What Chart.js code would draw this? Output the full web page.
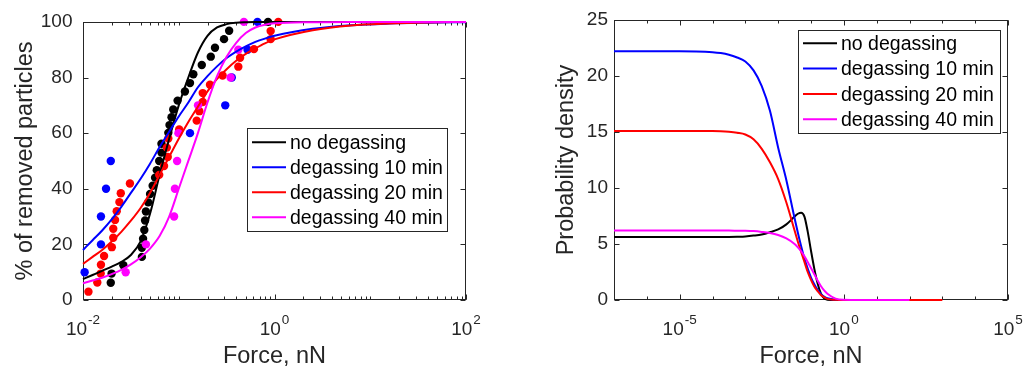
<!DOCTYPE html>
<html>
<head>
<meta charset="utf-8">
<script src="https://cdn.jsdelivr.net/npm/chart.js@4.4.1/dist/chart.umd.min.js"></script>
<style>
  html, body { margin: 0; padding: 0; background: #fff; }
  #wrap { position: relative; width: 1028px; height: 376px; }
  .panel { position: absolute; top: 0; width: 514px; height: 376px; }
</style>
</head>
<body>
<div id="wrap">
  <div class="panel" style="left:0"><canvas id="removalChart"></canvas></div>
  <div class="panel" style="left:514px"><canvas id="densityChart"></canvas></div>
</div>
<script>
const FONT = '"Liberation Sans", Arial, Helvetica, sans-serif';
const INK = "#262626";

const SERIES = ["no degassing", "degassing 10 min", "degassing 20 min", "degassing 40 min"];
const COLORS = ["#000000", "#0000ff", "#ff0000", "#ff00ff"];

// measured points, left panel (force in nN, % removed)
const noDegForce = [0.0195, 0.0199, 0.0264, 0.0412, 0.0412, 0.0424, 0.0437, 0.0445, 0.0454, 0.048, 0.0502, 0.0534, 0.0566, 0.059, 0.0625, 0.066, 0.066, 0.0778, 0.0801, 0.0841, 0.0876, 0.0973, 0.116, 0.131, 0.142, 0.174, 0.216, 0.239, 0.297, 0.336, 0.856];
const noDegPct = [6.2, 9.5, 12.5, 15.5, 18.8, 22, 25.2, 28.6, 31.8, 35.1, 38.1, 41.1, 44, 46.7, 50, 53, 56.2, 60.1, 62.9, 65.7, 68.5, 71.7, 75, 78, 81.2, 84.5, 87.5, 90.7, 93.8, 96.8, 100];

const deg10Force = [0.0104, 0.0154, 0.0154, 0.0174, 0.0195, 0.131, 0.306, 0.358, 0.523, 0.664];
const deg10Pct = [10, 20, 30, 40, 50, 60, 70, 80, 90, 100];

const deg20Force = [0.0114, 0.0141, 0.0153, 0.0154, 0.0166, 0.02, 0.0207, 0.0207, 0.0216, 0.0225, 0.024, 0.0248, 0.0309, 0.0625, 0.0702, 0.0767, 0.0751, 0.0778, 0.101, 0.154, 0.164, 0.178, 0.178, 0.212, 0.287, 0.419, 0.437, 0.61, 0.912, 0.912, 1.096];
const deg20Pct = [3, 6.3, 9.5, 12.7, 15.8, 19, 22.4, 25.6, 28.8, 31.9, 35.2, 38.4, 41.9, 45, 48.2, 51.4, 54.8, 58.1, 61.3, 64.5, 67.9, 71.2, 74.4, 77.4, 80.7, 83.9, 87.1, 90.2, 93.8, 96.7, 100];

const deg40Force = [0.0279, 0.0454, 0.0894, 0.0912, 0.0961, 0.0992, 0.159, 0.348, 0.419, 0.479];
const deg40Pct = [10, 20, 30, 40, 50, 60, 70, 80, 90, 100];

// fitted curves, left panel
const fitForce = [0.01, 0.01259, 0.01585, 0.01995, 0.02512, 0.03162, 0.03981, 0.05012, 0.0631, 0.07943, 0.1, 0.1259, 0.1585, 0.1995, 0.2512, 0.3162, 0.3981, 0.5012, 0.631, 0.7943, 1, 2.512, 6.31, 15.85, 39.81, 100];
const fitNoDeg = [7.5, 9, 10.5, 12, 13.7, 16.2, 21, 31, 45, 58, 70, 80, 89, 95, 98, 99.2, 99.7, 99.9, 100, 100, 100, 100, 100, 100, 100, 100];
const fitDeg10 = [18, 21.5, 25, 29, 33.5, 38.5, 43.5, 49, 55, 60.5, 66, 71, 76.5, 80.5, 84, 87, 89.3, 91.2, 92.8, 94, 95, 97.5, 98.8, 99.4, 99.7, 99.9];
const fitDeg20 = [13, 15.5, 18, 21, 24.5, 28.5, 33, 38.5, 45, 51.5, 58, 64, 69.5, 75, 79.5, 83, 86, 88.5, 90.5, 92.3, 93.7, 97, 98.7, 99.4, 99.8, 100];
const fitDeg40 = [6, 7, 8, 9.3, 10.8, 12.8, 15.3, 18.5, 23, 30, 40, 50, 60, 71, 80.5, 87.5, 92.5, 96, 98, 99, 99.5, 99.9, 100, 100, 100, 100];

// probability density, right panel
const densityForce = [1e-7, 1e-6, 1e-5, 3.162e-5, 1e-4, 1.778e-4, 3.162e-4, 5.623e-4, 1e-3, 1.778e-3, 3.162e-3, 5.623e-3, 0.01, 0.01778, 0.03162, 0.03981, 0.05012, 0.0631, 0.07943, 0.1, 0.1259, 0.1585, 0.1995, 0.2512, 0.3162, 0.5623, 1, 3.162, 10, 100, 1000];
const densNoDeg = [5.62, 5.62, 5.62, 5.62, 5.62, 5.62, 5.63, 5.65, 5.68, 5.75, 5.85, 6.05, 6.3, 6.75, 7.45, 7.7, 7.8, 7.45, 6.1, 4.4, 2.8, 1.5, 0.6, 0.15, 0.03, 0, 0, 0, 0, null, null];
const densDeg10 = [22.2, 22.2, 22.2, 22.19, 22.13, 22.05, 21.9, 21.65, 21.3, 20.5, 19.1, 16.9, 13.6, 10.7, 7.3, 6.0, 4.8, 3.7, 2.8, 2.0, 1.4, 0.9, 0.55, 0.3, 0.15, 0.02, 0, 0, 0, null, null];
const densDeg20 = [15.1, 15.1, 15.1, 15.1, 15.09, 15.07, 15.02, 14.93, 14.78, 14.35, 13.5, 12.3, 10.8, 8.7, 6.2, 5.2, 4.3, 3.4, 2.5, 1.8, 1.2, 0.8, 0.45, 0.25, 0.1, 0.02, 0, 0, 0, 0, 0];
const densDeg40 = [6.2, 6.2, 6.2, 6.2, 6.2, 6.2, 6.2, 6.19, 6.18, 6.15, 6.08, 5.98, 5.8, 5.5, 5.0, 4.7, 4.35, 3.9, 3.4, 2.85, 2.3, 1.75, 1.25, 0.85, 0.55, 0.12, 0.02, 0, 0, 0, null];

// x tick labels (10^exp)
const removalTickValues = [0.01, 1, 100];
const removalTickExps = ["-2", "0", "2"];
const densityTickValues = [1e-5, 1, 1e5];
const densityTickExps = ["-5", "0", "5"];

const pts = (xs, ys) => xs.map((x, i) => ({ x, y: ys[i] })).filter(p => p.y != null);

// MATLAB-like box, inward ticks, 10^n labels and a legend inside the axes
const axisDecor = {
  id: "axisDecor",
  beforeDatasetsDraw(chart, args, opts) {
    const { ctx, chartArea: a } = chart;
    const x = chart.scales.x, y = chart.scales.y;
    const L = Math.round(a.left) + 0.5, R = Math.round(a.right) - 0.5;
    const T = Math.round(a.top) + 0.5, B = Math.round(a.bottom) - 0.5;
    ctx.save();
    ctx.strokeStyle = INK;
    ctx.lineWidth = 1;
    ctx.beginPath();
    const xTick = (v, len) => {
      const px = Math.round(x.getPixelForValue(v)) + 0.5;
      ctx.moveTo(px, B); ctx.lineTo(px, B - len);
      ctx.moveTo(px, T); ctx.lineTo(px, T + len);
    };
    const yTick = (v, len) => {
      const py = Math.round(y.getPixelForValue(v)) + 0.5;
      ctx.moveTo(L, py); ctx.lineTo(L + len, py);
      ctx.moveTo(R, py); ctx.lineTo(R - len, py);
    };
    const lo = Math.floor(Math.log10(x.min)), hi = Math.ceil(Math.log10(x.max));
    for (let d = lo; d <= hi; d++) {
      opts.minorSteps.forEach(k => {
        const v = k * Math.pow(10, d);
        if (v >= x.min * 0.999 && v <= x.max * 1.001) xTick(v, 3);
      });
    }
    opts.tickValues.forEach(v => xTick(v, 5));
    y.ticks.forEach(t => yTick(t.value, 5));
    ctx.stroke();
    ctx.strokeRect(L, T, R - L, B - T);
    ctx.restore();
  },
  afterDatasetsDraw(chart, args, opts) {
    const { ctx } = chart;
    const lg = opts.legend;
    ctx.save();
    ctx.fillStyle = "#fff";
    ctx.fillRect(lg.left, lg.top, lg.width, lg.height);
    ctx.strokeStyle = INK;
    ctx.lineWidth = 1;
    ctx.strokeRect(lg.left + 0.5, lg.top + 0.5, lg.width, lg.height);
    ctx.font = `19.5px ${FONT}`;
    ctx.textBaseline = "middle";
    SERIES.forEach((name, i) => {
      const yy = lg.top + lg.firstRow + i * lg.rowGap;
      ctx.strokeStyle = COLORS[i];
      ctx.lineWidth = 2;
      ctx.beginPath();
      ctx.moveTo(lg.left + 5, yy);
      ctx.lineTo(lg.left + 39, yy);
      ctx.stroke();
      ctx.fillStyle = "#000";
      ctx.fillText(name, lg.left + 43, yy + 1.5);
    });
    ctx.restore();
  },
  afterDraw(chart, args, opts) {
    const { ctx } = chart;
    const x = chart.scales.x;
    ctx.save();
    ctx.fillStyle = INK;
    ctx.textBaseline = "alphabetic";
    opts.tickValues.forEach((v, i) => {
      const px = x.getPixelForValue(v);
      ctx.font = `19px ${FONT}`;
      const bw = ctx.measureText("10").width;
      ctx.font = `13.5px ${FONT}`;
      const ew = ctx.measureText(opts.tickExps[i]).width;
      const left = px - (bw + 1 + ew) / 2;
      ctx.font = `19px ${FONT}`;
      ctx.fillText("10", left, 335);
      ctx.font = `13.5px ${FONT}`;
      ctx.fillText(opts.tickExps[i], left + bw + 1, 323.5);
    });
    ctx.restore();
  }
};
Chart.register(axisDecor);

function baseScales(xMin, xMax, yMax, yStep, yTitle, yTitlePad, yWidth, yTickPad) {
  return {
    x: {
      type: "logarithmic",
      min: xMin,
      max: xMax,
      grid: { display: false, drawTicks: false },
      border: { display: false },
      ticks: { display: false },
      title: { display: true, text: "Force, nN", color: INK, font: { family: FONT, size: 23.5 }, padding: { top: 0, bottom: 5 } },
      afterFit: s => { s.height = 76; }
    },
    y: {
      min: 0,
      max: yMax,
      grid: { display: false, drawTicks: false },
      border: { display: false },
      ticks: { stepSize: yStep, color: INK, font: { family: FONT, size: 19 }, padding: yTickPad },
      title: { display: true, text: yTitle, color: INK, font: { family: FONT, size: 23.5 }, padding: { top: yTitlePad, bottom: 0 } },
      afterFit: s => { s.width = yWidth; }
    }
  };
}

const fitSeries = [fitNoDeg, fitDeg10, fitDeg20, fitDeg40];
const measForce = [noDegForce, deg10Force, deg20Force, deg40Force];
const measPct = [noDegPct, deg10Pct, deg20Pct, deg40Pct];
const densSeries = [densNoDeg, densDeg10, densDeg20, densDeg40];
const topFirst = [3, 2, 1, 0];

new Chart(document.getElementById("removalChart"), {
  type: "scatter",
  data: {
    datasets: [
      ...topFirst.map(i => ({
        label: SERIES[i],
        data: pts(fitForce, fitSeries[i]),
        showLine: true,
        borderColor: COLORS[i],
        borderWidth: 2,
        pointRadius: 0,
        cubicInterpolationMode: "monotone",
        clip: false
      })),
      ...topFirst.map(i => ({
        label: SERIES[i] + " data",
        data: pts(measForce[i], measPct[i]),
        pointRadius: 4.2,
        backgroundColor: COLORS[i],
        borderWidth: 0,
        clip: false
      }))
    ]
  },
  options: {
    responsive: true,
    maintainAspectRatio: false,
    animation: false,
    layout: { padding: { top: 20, right: 48, left: 0, bottom: 0 } },
    plugins: {
      legend: { display: false },
      tooltip: { enabled: false },
      axisDecor: {
        minorSteps: [1, 2, 3, 4, 5, 6, 7, 8, 9],
        tickValues: removalTickValues,
        tickExps: removalTickExps,
        legend: { left: 247, top: 128, width: 200, height: 103, firstRow: 14.3, rowGap: 25 }
      }
    },
    scales: baseScales(0.01, 100, 100, 20, "% of removed particles", 11, 83, 10.5)
  }
});

new Chart(document.getElementById("densityChart"), {
  type: "scatter",
  data: {
    datasets: topFirst.map(i => ({
      label: SERIES[i],
      data: pts(densityForce, densSeries[i]),
      showLine: true,
      borderColor: COLORS[i],
      borderWidth: 2,
      pointRadius: 0,
      cubicInterpolationMode: "monotone",
      clip: false
    }))
  },
  options: {
    responsive: true,
    maintainAspectRatio: false,
    animation: false,
    layout: { padding: { top: 20, right: 20, left: 0, bottom: 0 } },
    plugins: {
      legend: { display: false },
      tooltip: { enabled: false },
      axisDecor: {
        minorSteps: [1],
        tickValues: densityTickValues,
        tickExps: densityTickExps,
        legend: { left: 284, top: 30, width: 202, height: 103, firstRow: 13.3, rowGap: 25.3 }
      }
    },
    scales: baseScales(1e-7, 1e5, 25, 5, "Probability density", 38.5, 100, 6)
  }
});
</script>
</body>
</html>
